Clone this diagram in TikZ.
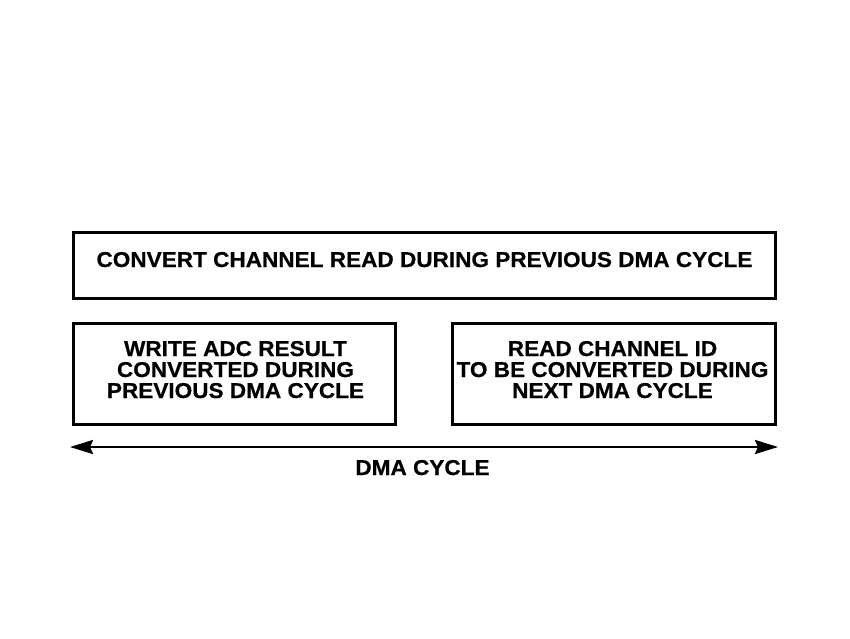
\documentclass[tikz,border=0pt]{standalone}
\usepackage{fontspec}
\setmainfont{Liberation Sans}[BoldFeatures={FakeStretch=1.05, FakeBold=0.6}]
\usetikzlibrary{arrows.meta}
\tikzset{
  box/.style={draw=black, line width=3pt, fill=none, inner sep=0pt},
  lbl/.style={font=\fontsize{21.5}{21}\selectfont\bfseries, align=center, inner sep=0pt, anchor=base},
  span/.style={line width=2.8pt, {Stealth[length=23pt,width=14pt,inset=3pt]}-{Stealth[length=23pt,width=14pt,inset=3pt]}}
}
\begin{document}
\begin{tikzpicture}[x=1pt,y=-1pt]
\useasboundingbox[fill=white] (0,0) rectangle (850,638);
\node[box, minimum width=702pt, minimum height=66pt] (top) at (424.5,265.5) {};
\node[box, minimum width=322pt, minimum height=101pt] (left) at (234.5,374) {};
\node[box, minimum width=323pt, minimum height=101pt] (right) at (614,374) {};
\node[lbl] (toptext) at (424.5,267) {CONVERT CHANNEL READ DURING PREVIOUS DMA CYCLE};
\node[lbl] (lefttext) at (235.5,398) {WRITE ADC RESULT\\CONVERTED DURING\\PREVIOUS DMA CYCLE};
\node[lbl] (righttext) at (612.5,398) {READ CHANNEL ID\\TO BE CONVERTED DURING\\NEXT DMA CYCLE};
\coordinate (spanL) at (70,447);
\coordinate (spanR) at (778,447);
\draw[span] (spanL) -- (spanR);
\node[lbl] (dma) at (422.5,475) {DMA CYCLE};
\end{tikzpicture}
\end{document}
